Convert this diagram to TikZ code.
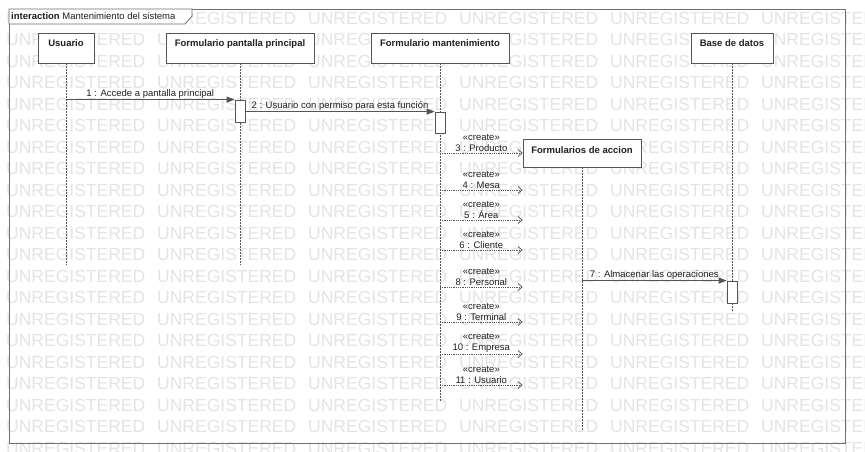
\documentclass[tikz,border=0pt]{standalone}
\usepackage{fontspec}
\setmainfont{Liberation Sans}
\usetikzlibrary{arrows.meta, positioning, calc}
\definecolor{lineGray}{HTML}{555555}
\definecolor{frameGray}{HTML}{707070}
\definecolor{markGray}{HTML}{E4E4E4}
\definecolor{textDark}{HTML}{202020}
\newcommand{\MsgFont}{\fontsize{9.5}{11}\selectfont}
\newcommand{\CreateMsg}[3]{
    \coordinate (c#1) at (acc.west |- 0,#2);
    \draw[createmsg] (mant |- c#1) -- (c#1) node[midway, above=0pt, msglabel, align=center] {«create»\\#3};
}

\begin{document}
\begin{tikzpicture}[x=1pt, y=-1pt,
    lifebox/.style={draw=lineGray, fill=white, line width=0.8pt, text=textDark,
        font=\bfseries\MsgFont, inner ysep=7pt, text height=7pt, text depth=9pt},
    actbox/.style={draw=lineGray, fill=white, line width=0.8pt, minimum width=10pt, minimum height=22pt, inner sep=0pt},
    lifeline/.style={draw=lineGray, line width=0.7pt, dash pattern=on 1.5pt off 1.5pt},
    syncmsg/.style={draw=lineGray, line width=0.8pt, -{Triangle[length=8pt, width=6pt]}},
    createmsg/.style={draw=lineGray, line width=0.8pt, densely dotted, -{Straight Barb[length=4pt, width=7pt]}},
    msglabel/.style={font=\MsgFont, text=textDark, inner sep=1pt},
    watermark/.style={font=\fontsize{17.5}{20}\selectfont, text=markGray, inner sep=0pt, anchor=west}]
    \useasboundingbox (0,0) rectangle (865,452);
    \fill[white] (0,0) rectangle (865,452);

    % watermark
    \foreach \r in {0,...,20}
        \foreach \c in {0,...,5}
            \node[watermark] at (6+151*\c, 18+21.5*\r) {UNREGISTERED};

    % frame
    \draw[frameGray, line width=0.8pt] (9,9) rectangle (845,443);
    \draw[frameGray, line width=0.8pt, fill=white] (9,9) -- (192,9) -- (192,16) -- (185,24) -- (9,24) -- cycle;
    \node[anchor=west, font=\MsgFont, text=textDark, inner sep=0pt] (title) at (11,16.5) {\textbf{interaction} Mantenimiento del sistema};

    % lifelines
    \node[lifebox, minimum width=56pt] (usr) at (66,48) {Usuario};
    \node[lifebox, minimum width=148pt] (pant) at (240,48) {Formulario pantalla principal};
    \node[lifebox, minimum width=138pt] (mant) at (440,48) {Formulario mantenimiento};
    \node[lifebox, minimum width=82pt] (bd) at (732,48) {Base de datos};
    \node[lifebox, minimum width=118pt, text depth=7pt] (acc) at (582,153) {Formularios de accion};

    \coordinate (usrEnd) at (66,265);
    \coordinate (pantEnd) at (240,265);
    \coordinate (mantEnd) at (440,402);
    \coordinate (bdEnd) at (732,312);
    \coordinate (accEnd) at (582,430);
    \draw[lifeline] (usr) -- (usrEnd);
    \draw[lifeline] (pant) -- (pantEnd);
    \draw[lifeline] (mant) -- (mantEnd);
    \draw[lifeline] (bd) -- (bdEnd);
    \draw[lifeline] (acc) -- (accEnd);

    % activations
    \node[actbox] (act1) at (240,111) {};
    \node[actbox, minimum height=21pt] (act2) at (440,122.5) {};
    \node[actbox] (act3) at (732,292) {};

    % messages
    \draw[syncmsg] (usr |- act1.north) -- (act1.north west) node[midway, above, msglabel] {1 : Accede a pantalla principal};
    \draw[syncmsg] (act1.east |- act2.north) -- (act2.north west) node[midway, above, msglabel] {2 : Usuario con permiso para esta función};
    \draw[syncmsg] (acc |- act3.north) -- (act3.north west) node[midway, above, msglabel] {7 : Almacenar las operaciones};

    % create messages
    \CreateMsg{3}{153}{3 : Producto}
    \CreateMsg{4}{190}{4 : Mesa}
    \CreateMsg{5}{220}{5 : Área}
    \CreateMsg{6}{250}{6 : Cliente}
    \CreateMsg{8}{287}{8 : Personal}
    \CreateMsg{9}{322}{9 : Terminal}
    \CreateMsg{10}{354}{10 : Empresa}
    \CreateMsg{11}{385}{11 : Usuario}
\end{tikzpicture}
\end{document}
